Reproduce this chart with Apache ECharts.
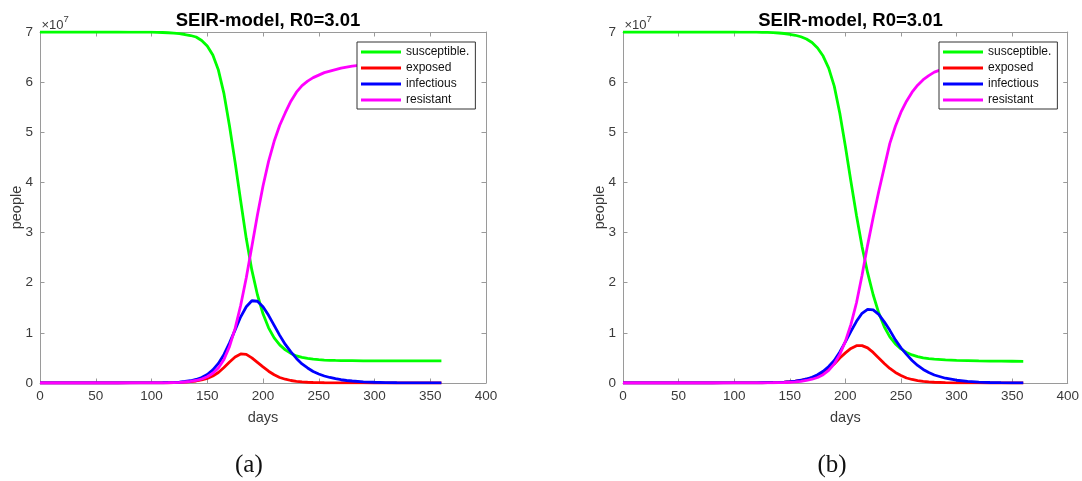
<!DOCTYPE html>
<html><head><meta charset="utf-8">
<script src="https://cdn.jsdelivr.net/npm/echarts@6/dist/echarts.min.js"></script>
<style>html,body{margin:0;padding:0;background:#fff}#c{width:1082px;height:481px}</style>
</head><body><div id="c"></div><script>
// ---- data (values in units of 10^7 people) ----
const days = [0,10,20,30,40,50,60,70,80,90,100,
  105,110,115,120,125,130,135,140,145,150,155,160,165,170,175,180,185,190,195,200,
  205,210,215,220,225,230,235,240,245,250,255,260,265,270,275,280,
  290,300,310,320,330,340,350,360];

const seriesNames = ['susceptible.', 'exposed', 'infectious', 'resistant'];
const titleText = 'SEIR-model, R0=3.01';
const panelLabels = ['(a)', '(b)'];

// panel (a)
const susceptibleA = [7,7,7,7,7,7,7,7,6.999,6.998,6.996,
  6.993,6.99,6.985,6.978,6.967,6.95,6.93,6.9,6.83,6.72,6.54,6.24,5.77,5.12,4.40,3.63,2.88,2.25,1.76,1.38,
  1.10,0.90,0.76,0.66,0.59,0.54,0.51,0.49,0.475,0.465,0.458,0.453,0.45,0.448,0.446,0.445,
  0.443,0.442,0.441,0.44,0.44,0.44,0.44,0.44];
const exposedA = [0,0,0,0,0,0,0,0,0.0005,0.0008,0.0012,
  0.002,0.003,0.0045,0.007,0.011,0.017,0.026,0.04,0.06,0.09,0.14,0.21,0.31,0.42,0.52,0.58,0.57,0.50,0.41,0.32,
  0.235,0.165,0.11,0.075,0.05,0.033,0.022,0.015,0.01,0.007,0.005,0.0035,0.0025,0.0018,0.0013,0.001,
  0.0005,0.0003,0.0002,0.0001,0,0,0,0];
const infectiousA = [0,0,0,0,0,0,0,0,0.0005,0.001,0.002,
  0.003,0.005,0.008,0.012,0.019,0.03,0.045,0.07,0.11,0.17,0.26,0.39,0.57,0.80,1.06,1.32,1.52,1.64,1.63,1.52,
  1.35,1.15,0.95,0.77,0.62,0.49,0.38,0.30,0.23,0.18,0.14,0.11,0.085,0.065,0.05,0.04,
  0.024,0.015,0.009,0.005,0.003,0.002,0.001,0.001];
const resistantA = [0,0,0,0,0,0,0,0,0.0003,0.0008,0.0015,
  0.002,0.003,0.005,0.008,0.012,0.02,0.032,0.05,0.08,0.125,0.195,0.30,0.47,0.73,1.09,1.55,2.10,2.72,3.35,3.93,
  4.42,4.82,5.14,5.39,5.62,5.80,5.93,6.02,6.09,6.14,6.19,6.22,6.25,6.28,6.30,6.32,
  6.345,6.36,6.37,6.38,6.385,6.39,6.39,6.39];

// panel (b)
const susceptibleB = [7,7,7,7,7,7,7,7,7,7,7,
  6.999,6.998,6.997,6.996,6.994,6.991,6.987,6.98,6.97,6.955,6.935,6.905,6.86,6.79,6.68,6.52,6.28,5.92,5.38,4.72,
  4.02,3.34,2.72,2.20,1.76,1.40,1.12,0.92,0.78,0.68,0.61,0.56,0.525,0.50,0.485,0.475,
  0.46,0.45,0.445,0.44,0.437,0.435,0.434,0.433];
const exposedB = [0,0,0,0,0,0,0,0,0,0.0005,0.001,
  0.0013,0.0017,0.0023,0.003,0.004,0.006,0.008,0.012,0.017,0.025,0.036,0.052,0.075,0.105,0.145,0.20,0.29,0.38,0.50,0.60,
  0.69,0.745,0.745,0.70,0.61,0.50,0.39,0.29,0.21,0.15,0.10,0.07,0.048,0.032,0.022,0.015,
  0.007,0.003,0.0015,0.0007,0.0003,0,0,0];
const infectiousB = [0,0,0,0,0,0,0,0,0,0.0005,0.001,
  0.0013,0.0017,0.0023,0.003,0.0045,0.006,0.009,0.012,0.018,0.026,0.038,0.055,0.08,0.115,0.165,0.235,0.33,0.45,0.62,0.82,
  1.03,1.23,1.39,1.47,1.46,1.37,1.22,1.05,0.86,0.70,0.57,0.45,0.35,0.27,0.21,0.16,
  0.095,0.055,0.032,0.018,0.01,0.006,0.004,0.002];
const resistantB = [0,0,0,0,0,0,0,0,0,0.0003,0.0006,
  0.0008,0.001,0.0014,0.002,0.0027,0.0037,0.005,0.007,0.01,0.015,0.022,0.032,0.05,0.075,0.11,0.165,0.25,0.38,0.57,0.83,
  1.17,1.60,2.15,2.75,3.30,3.82,4.30,4.78,5.12,5.40,5.62,5.80,5.94,6.05,6.13,6.20,
  6.28,6.33,6.36,6.38,6.39,6.40,6.40,6.40];

const panelData = [
  [susceptibleA, exposedA, infectiousA, resistantA],
  [susceptibleB, exposedB, infectiousB, resistantB]
];
const colors = ['#00ff00', '#ff0000', '#0000ff', '#ff00ff'];

// ---- layout ----
const FONT = 'Liberation Sans, Arial, sans-serif';
const axisGray = '#9a9a9a';
const labelGray = '#3a3a3a';
const grids = [
  {left: 40, right: 596, top: 32, bottom: 98},
  {left: 623, right: 14, top: 32, bottom: 98}
];

const xAxes = [], yAxes = [], series = [], titles = [], legends = [], graphics = [];
grids.forEach((g, gi) => {
  const common = {
    type: 'value', gridIndex: gi, splitLine: {show: false},
    axisLine: {show: true, onZero: false, lineStyle: {color: axisGray, width: 1}},
    axisTick: {show: true, inside: true, length: 4.5, lineStyle: {color: axisGray}}
  };
  xAxes.push(Object.assign({}, common, {
    position: 'bottom', min: 0, max: 400, interval: 50,
    axisLabel: {color: labelGray, fontSize: 13.5, fontFamily: FONT, margin: 6},
    name: 'days', nameLocation: 'middle', nameGap: 27, nameMoveOverlap: false,
    nameTextStyle: {color: labelGray, fontSize: 14.5, fontFamily: FONT}
  }));
  xAxes.push(Object.assign({}, common, {
    position: 'top', min: 0, max: 400, interval: 50, axisLabel: {show: false}
  }));
  yAxes.push(Object.assign({}, common, {
    position: 'left', min: 0, max: 7, interval: 1,
    axisLabel: {color: labelGray, fontSize: 13.5, fontFamily: FONT, margin: 7},
    name: 'people', nameLocation: 'middle', nameGap: 16, nameMoveOverlap: false,
    nameTextStyle: {color: labelGray, fontSize: 14.5, fontFamily: FONT}
  }));
  yAxes.push(Object.assign({}, common, {
    position: 'right', min: 0, max: 7, interval: 1, axisLabel: {show: false}
  }));
  panelData[gi].forEach((arr, si) => {
    series.push({
      type: 'line', name: seriesNames[si], xAxisIndex: gi * 2, yAxisIndex: gi * 2,
      data: days.map((d, i) => [d, arr[i]]),
      showSymbol: false, symbol: 'none', smooth: false,
      lineStyle: {color: colors[si], width: 2.8}, itemStyle: {color: colors[si]},
      z: 2 + si * 0.1
    });
  });
  const cx = g.left + (1082 - g.left - g.right) / 2;
  titles.push({
    text: titleText, left: cx, top: 6, textAlign: 'center',
    textStyle: {fontSize: 18.5, fontWeight: 'bold', color: '#000', fontFamily: FONT}
  });
  legends.push({
    data: seriesNames, orient: 'vertical',
    left: gi === 0 ? 357 : 939, top: 42,
    icon: 'rect', itemWidth: 40, itemHeight: 3, itemGap: 4,
    padding: [4, 6, 3, 4],
    backgroundColor: '#fff', borderColor: '#333', borderWidth: 1, borderRadius: 0,
    textStyle: {fontSize: 12, color: '#111', fontFamily: FONT},
    selectedMode: false, z: 10
  });
  graphics.push({
    type: 'text', left: g.left + 1.5, top: 19,
    style: {text: '×10', fontSize: 13, fill: labelGray, fontFamily: FONT}
  });
  graphics.push({
    type: 'text', left: g.left + 23.5, top: 14,
    style: {text: '7', fontSize: 9.5, fill: labelGray, fontFamily: FONT}
  });
  graphics.push({
    type: 'text', left: cx - 14 - 14, top: 453,
    style: {text: panelLabels[gi], fontSize: 25, fill: '#111', fontFamily: 'Liberation Serif, DejaVu Serif, serif'}
  });
});

const chart = echarts.init(document.getElementById('c'), null, {renderer: 'canvas'});
chart.setOption({
  animation: false,
  backgroundColor: '#fff',
  title: titles,
  legend: legends,
  grid: grids,
  xAxis: xAxes,
  yAxis: yAxes,
  series: series,
  graphic: graphics
});
</script></body></html>
